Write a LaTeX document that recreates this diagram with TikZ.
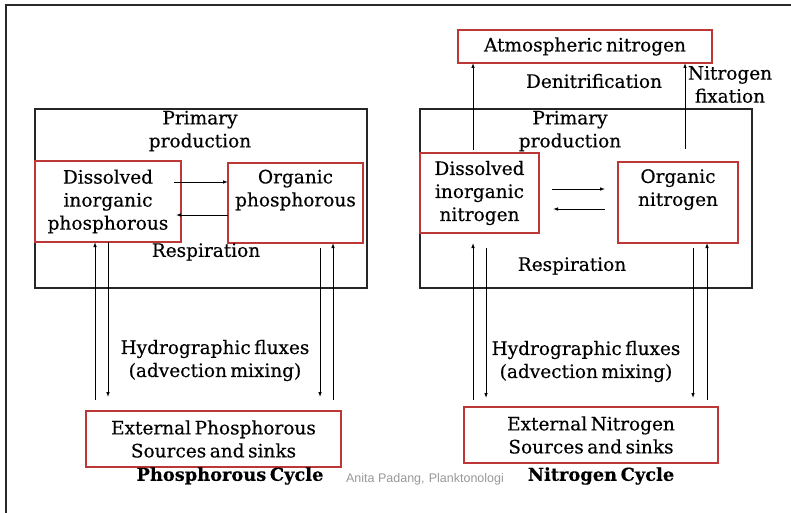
\documentclass[tikz,border=0pt]{standalone}
\usepackage{fontspec}
\setmainfont{DejaVu Serif}[WordSpace=0.6,FakeBold=0.35]
\newfontfamily\credfont{Liberation Sans}
\usetikzlibrary{arrows.meta}
\definecolor{boxred}{RGB}{190,55,55}
\definecolor{framegray}{RGB}{40,40,40}
\begin{document}
\begin{tikzpicture}[x=1pt,y=-1pt,
  blkbox/.style={draw=black!85,line width=1.3pt,inner sep=0pt,outer sep=0pt},
  redbox/.style={draw=boxred,line width=1.3pt,inner sep=0pt,outer sep=0pt,align=center,
    font=\fontsize{18.5}{23}\selectfont},
  lbl/.style={align=center,inner sep=0pt,font=\fontsize{18.5}{23}\selectfont},
  ttl/.style={inner sep=0pt,font=\fontsize{17.8}{20}\selectfont\bfseries},
  arr/.style={line width=0.9pt,-{Latex[length=5pt,width=3.6pt]}}]
\useasboundingbox (0,0) rectangle (791,513);
\fill[white] (0,0) rectangle (791,513);
\draw[framegray,line width=1.3pt] (6,513) -- (6,5) -- (791,5);

% ---------- Phosphorous cycle ----------
\node[blkbox,minimum width=332pt,minimum height=179pt] (bigP) at (201,198.5) {};
\node[lbl] (ppP) at (200,131) {Primary\\production};
\node[redbox,minimum width=146pt,minimum height=81pt] (dip) at (108,201.5) {Dissolved\\inorganic\\phosphorous};
\node[redbox,minimum width=135pt,minimum height=80pt] (orgP) at (295.5,203) {Organic\\phosphorous\\\strut};
\node[lbl] (respP) at (206,252) {Respiration};
\node[lbl] (hydP) at (215,360.5) {Hydrographic fluxes\\(advection mixing)};
\node[redbox,minimum width=255pt,minimum height=56pt] (extP) at (213.5,439) {External Phosphorous\\Sources and sinks};
\node[ttl] (cycP) at (230,476) {Phosphorous Cycle};
\node[inner sep=0pt,font=\credfont\fontsize{12.5}{14}\selectfont,text=black!40] (cred) at (425,479) {Anita Padang,\,\,Planktonologi};

\coordinate (p1) at (95,400);
\coordinate (p2) at (108,397);
\coordinate (p3a) at (320,248);
\coordinate (p3b) at (320,397);
\coordinate (p4) at (333,400);
\coordinate (p5) at (174,182);
\coordinate (p6) at (176,215);
\draw[arr] (p1) -- (p1 |- dip.south);
\draw[arr] (p2 |- dip.south) -- (p2);
\draw[arr] (p3a) -- (p3b);
\draw[arr] (p4) -- (p4 |- orgP.south);
\draw[arr] (p5) -- (p5 -| orgP.west);
\draw[arr] (p6 -| orgP.west) -- (p6);

% ---------- Nitrogen cycle ----------
\node[redbox,minimum width=254pt,minimum height=33pt] (atm) at (585,46.5) {Atmospheric nitrogen};
\node[lbl] (denit) at (594,81) {Denitrification};
\node[lbl] (nfix) at (730,84.5) {Nitrogen\\fixation};
\node[blkbox,minimum width=332pt,minimum height=179pt] (bigN) at (586,198.5) {};
\node[lbl] (ppN) at (570,131) {Primary\\production};
\node[redbox,minimum width=119pt,minimum height=80pt] (din) at (479.5,193) {Dissolved\\inorganic\\nitrogen};
\node[redbox,minimum width=120pt,minimum height=81pt] (orgN) at (678,202.5) {Organic\\nitrogen\\\strut};
\node[lbl] (respN) at (572,266) {Respiration};
\node[lbl] (hydN) at (586,361.5) {Hydrographic fluxes\\(advection mixing)};
\node[redbox,minimum width=254pt,minimum height=56pt] (extN) at (591,435) {External Nitrogen\\Sources and sinks};
\node[ttl] (cycN) at (601,476) {Nitrogen Cycle};

\coordinate (n1a) at (473,400);
\coordinate (n1b) at (473,243);
\coordinate (n2a) at (486,248);
\coordinate (n2b) at (486,398);
\coordinate (n3a) at (693,248);
\coordinate (n3b) at (693,398);
\coordinate (n4) at (707,400);
\coordinate (n5a) at (552,189);
\coordinate (n5b) at (605,189);
\coordinate (n6a) at (605,209);
\coordinate (n6b) at (553,209);
\coordinate (n7) at (473,150);
\coordinate (n8) at (685,149);
\draw[arr] (n1a) -- (n1b);
\draw[arr] (n2a) -- (n2b);
\draw[arr] (n3a) -- (n3b);
\draw[arr] (n4) -- (n4 |- orgN.south);
\draw[arr] (n5a) -- (n5b);
\draw[arr] (n6a) -- (n6b);
\draw[arr] (n7) -- (n7 |- atm.south);
\draw[arr] (n8) -- (n8 |- atm.south);
\end{tikzpicture}
\end{document}
